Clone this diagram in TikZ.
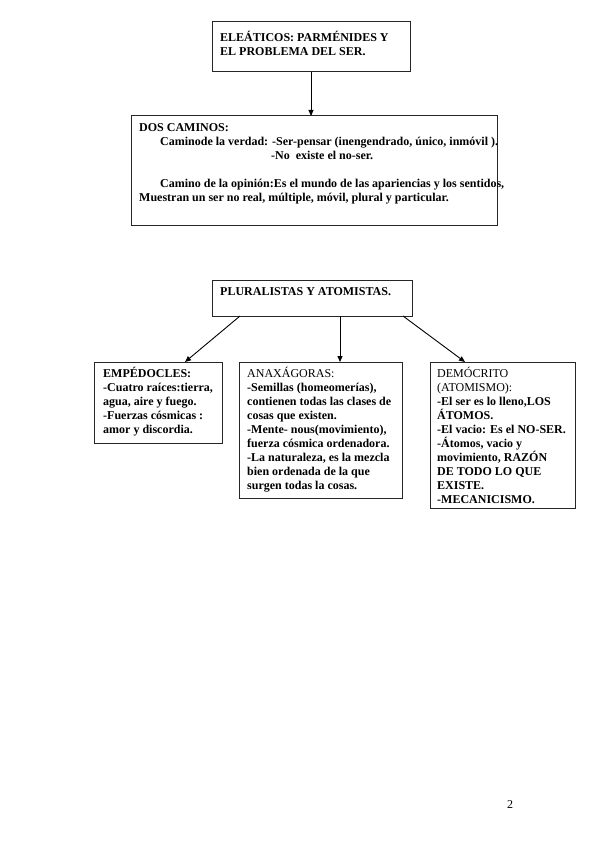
\documentclass[tikz,border=0pt]{standalone}
\usepackage{fontspec}
\setmainfont{Liberation Serif}
\usetikzlibrary{arrows.meta}

\begin{document}
\begin{tikzpicture}[
  x=1pt,y=-1pt,
  box/.style={draw=black!85,line width=1pt,anchor=north west,inner sep=0pt,outer sep=0pt},
  txt/.style={anchor=north west,inner sep=0pt,align=left,font=\fontsize{12}{14}\selectfont\bfseries},
  arrow/.style={-{Triangle[length=6pt,width=5pt]},line width=0.9pt}
]
\useasboundingbox (0,0) rectangle (599,848);
% upper boxes
\node[box,minimum width=198pt,minimum height=50pt] (eleat) at (212,22) {};
\node[txt] (eleattxt) at (220,31.2) {\strut ELEÁTICOS: PARMÉNIDES Y\\EL PROBLEMA DEL SER.};
\node[box,minimum width=366pt,minimum height=109pt] (caminos) at (131,116) {};
\node[txt] (caminostxt) at (139,121.2) {\strut DOS CAMINOS:\\
  \hspace*{21pt}Caminode la verdad: -Ser-pensar (inengendrado, único, inmóvil ).\\
  \hspace*{132pt}-No\ \ existe el no-ser.\\[14pt]
  \hspace*{21pt}Camino de la opinión:Es el mundo de las apariencias y los sentidos,\\
  Muestran un ser no real, múltiple, móvil, plural y particular.};
% lower boxes
\node[box,minimum width=200pt,minimum height=36pt] (plural) at (212,280) {};
\node[txt] (pluraltxt) at (220,285.2) {\strut PLURALISTAS Y ATOMISTAS.};
\node[box,minimum width=128pt,minimum height=81pt] (empe) at (94,362) {};
\node[txt] (empetxt) at (103,367.2) {\strut EMPÉDOCLES:\\-Cuatro raíces:tierra,\\agua, aire y fuego.\\-Fuerzas cósmicas :\\amor y discordia.};
\node[box,minimum width=163pt,minimum height=136pt] (anax) at (239,362) {};
\node[txt] (anaxtxt) at (247,367.2) {\strut{\mdseries ANAXÁGORAS:}\\-Semillas (homeomerías),\\contienen todas las clases de\\cosas que existen.\\-Mente- nous(movimiento),\\fuerza cósmica ordenadora.\\-La naturaleza, es la mezcla\\bien ordenada de la que\\surgen todas la cosas.};
\node[box,minimum width=145pt,minimum height=146pt] (demo) at (430,362) {};
\node[txt] (demotxt) at (437,367.2) {\strut{\mdseries DEMÓCRITO}\\{\mdseries (ATOMISMO):}\\-El ser es lo lleno,LOS\\ÁTOMOS.\\-El vacio: Es el NO-SER.\\-Átomos, vacio y\\movimiento, RAZÓN\\DE TODO LO QUE\\EXISTE.\\-MECANICISMO.};
\node[anchor=base west,inner sep=0pt,font=\fontsize{12}{14}\selectfont] (pagenum) at (507,808) {2};
% connectors
\draw[arrow] (eleat.south) -- (eleat.south |- caminos.north);
\draw[arrow] ([xshift=28pt]plural.south west) -- ([xshift=91pt]empe.north west);
\draw[arrow] ([xshift=128pt]plural.south west) -- ([xshift=101pt]anax.north west);
\draw[arrow] ([xshift=-9pt]plural.south east) -- ([xshift=35pt]demo.north west);
\end{tikzpicture}
\end{document}
